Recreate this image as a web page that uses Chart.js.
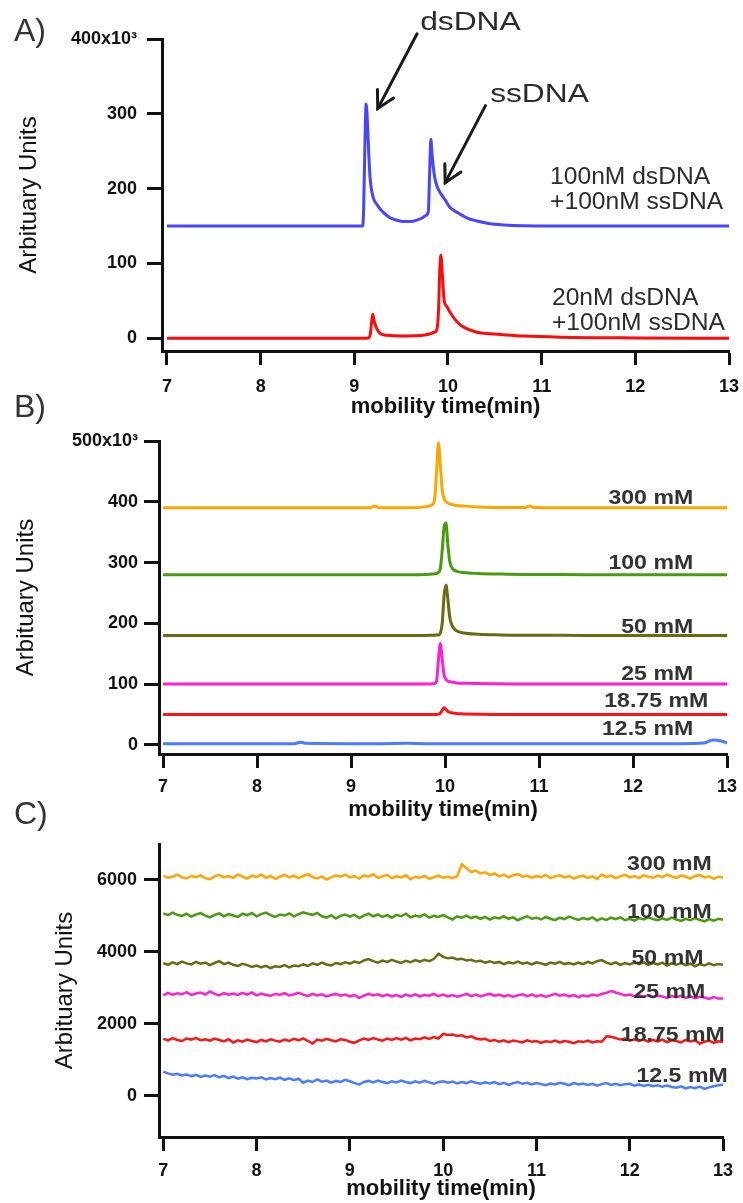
<!DOCTYPE html>
<html lang="en">
<head>
  <meta charset="UTF-8" />
  <title>Mobility shift electropherograms</title>
  <script src="https://cdn.jsdelivr.net/npm/chart.js"></script>
  <style>
    body {
      margin: 0;
      background: #fff;
      width: 743px;
      height: 1203px;
      overflow: hidden;
    }
    .panel {
      position: absolute;
      left: 0;
      width: 743px;
    }
  </style>
</head>
<body>
  <div class="panel" style="top:0;height:425px"><canvas id="chartA"></canvas></div>
  <div class="panel" style="top:385px;height:440px"><canvas id="chartB"></canvas></div>
  <div class="panel" style="top:790px;height:413px"><canvas id="chartC"></canvas></div>

  <script>
    // shared x ticks (minutes)
    const timeTicks = [7, 8, 9, 10, 11, 12, 13];

    // ---- panel A: dsDNA + ssDNA mixtures (y in units of 10^3) ----
    const aTicks = [0, 100, 200, 300, 400];
    const aBlueTime = [7, 8, 9, 9.09, 9.1, 9.115, 9.126, 9.14, 9.155, 9.17, 9.2, 9.24, 9.28, 9.33, 9.38, 9.45, 9.52, 9.6, 9.67, 9.73, 9.76, 9.79, 9.805, 9.817, 9.83, 9.85, 9.865, 9.89, 9.92, 9.97, 10.02, 10.1, 10.2, 10.3, 10.45, 10.6, 10.8, 11.1, 12, 13];
    const aBlue = [150, 150, 150, 150, 175, 270, 313, 290, 245, 212, 189, 179, 172, 166, 161, 158, 156, 156, 158, 161, 164, 169, 225, 266, 245, 222, 211, 201, 194, 185, 175, 168, 161, 157, 153, 151.5, 150.5, 150, 150, 150];
    const aRedTime = [7, 8, 9, 9.15, 9.17, 9.185, 9.197, 9.21, 9.24, 9.28, 9.35, 9.5, 9.65, 9.75, 9.81, 9.85, 9.88, 9.9, 9.912, 9.924, 9.94, 9.96, 9.99, 10.02, 10.07, 10.13, 10.2, 10.31, 10.45, 10.56, 10.8, 11.2, 12, 13];
    const aRed = [0, 0, 0, 0.5, 5, 22, 32, 24, 13, 6, 4, 3, 3.5, 4.5, 6, 8, 11, 40, 90, 111, 85, 50, 42, 35, 26, 18, 13, 8, 6, 5, 3, 1.5, 0.5, 0];

    // ---- panel B: salt series (y in units of 10^3) ----
    const bTicks = [0, 100, 200, 300, 400, 500];
    const bTime = [7, 7.5, 8, 8.4, 8.46, 8.52, 9, 9.2, 9.25, 9.3, 9.6, 9.8, 9.86, 9.89, 9.91, 9.93, 9.95, 9.97, 9.99, 10.01, 10.03, 10.05, 10.08, 10.12, 10.2, 10.35, 10.6, 10.85, 10.9, 10.95, 11.5, 12, 12.5, 12.75, 12.85, 12.95, 13];
    const b300 = [390, 390, 390, 390, 390, 390, 390, 390, 393, 390, 390, 392, 395, 405, 450, 497, 460, 420, 405, 400, 398, 396.5, 395, 394, 393, 391.5, 390.5, 390.5, 393, 390.5, 390, 390, 390, 390, 390, 390, 390];
    const b100 = [280, 280, 280, 280, 280, 280, 280, 280, 280, 280, 280, 280.5, 281, 281.5, 282, 284, 290, 320, 358, 365, 330, 302, 290, 286, 283.5, 282, 281, 280.5, 280.5, 280.5, 280, 280, 280, 280, 280, 280, 280];
    const b50 = [180, 180, 180, 180, 180, 180, 180, 180, 180, 180, 180, 180, 180.5, 180.5, 181, 181, 184, 200, 245, 263, 240, 210, 195, 188, 184, 182, 181, 180.5, 180.5, 180.5, 180, 180, 180, 180, 180, 180, 180];
    const b25 = [100, 100, 100, 100, 100, 100, 100, 100, 100, 100, 100, 100, 100.5, 101, 105, 140, 167, 140, 115, 108, 105, 104, 103, 102, 101.5, 101, 100.5, 100, 100, 100, 100, 100, 100, 100, 100, 100, 100];
    const b1875 = [50, 50, 50, 50, 50, 50, 50, 50, 50, 50, 50, 50, 50, 50, 50, 50.5, 52, 57, 61, 58, 55, 53.5, 52.5, 51.5, 51, 50.5, 50, 50, 50, 50, 50, 50, 50, 50, 50, 50, 50];
    const b125 = [2, 2, 2, 2, 4.5, 2.5, 2, 2, 2, 2, 2.5, 2, 2, 2, 2, 2, 2, 2, 2, 2, 2, 2, 2, 2, 2, 2, 2, 2, 2, 2, 2, 2, 2, 3, 8, 6, 3];

    // ---- panel C: controls (raw units), one reading every 0.05 min ----
    const cTicks = [0, 2000, 4000, 6000];
    const cTime = [
      7, 7.05, 7.1, 7.15, 7.2, 7.25, 7.3, 7.35, 7.4, 7.45,
      7.5, 7.55, 7.6, 7.65, 7.7, 7.75, 7.8, 7.85, 7.9, 7.95,
      8, 8.05, 8.1, 8.15, 8.2, 8.25, 8.3, 8.35, 8.4, 8.45,
      8.5, 8.55, 8.6, 8.65, 8.7, 8.75, 8.8, 8.85, 8.9, 8.95,
      9, 9.05, 9.1, 9.15, 9.2, 9.25, 9.3, 9.35, 9.4, 9.45,
      9.5, 9.55, 9.6, 9.65, 9.7, 9.75, 9.8, 9.85, 9.9, 9.95,
      10, 10.05, 10.1, 10.15, 10.2, 10.25, 10.3, 10.35, 10.4, 10.45,
      10.5, 10.55, 10.6, 10.65, 10.7, 10.75, 10.8, 10.85, 10.9, 10.95,
      11, 11.05, 11.1, 11.15, 11.2, 11.25, 11.3, 11.35, 11.4, 11.45,
      11.5, 11.55, 11.6, 11.65, 11.7, 11.75, 11.8, 11.85, 11.9, 11.95,
      12, 12.05, 12.1, 12.15, 12.2, 12.25, 12.3, 12.35, 12.4, 12.45,
      12.5, 12.55, 12.6, 12.65, 12.7, 12.75, 12.8, 12.85, 12.9, 12.95,
      13
    ];
    const c300 = [
      6120, 6060, 6090, 6150, 6070, 6040, 6110, 6080, 6130, 6050,
      6020, 6100, 6140, 6070, 6110, 6060, 6150, 6090, 6040, 6120,
      6080, 6150, 6060, 6110, 6030, 6090, 6140, 6070, 6120, 6050,
      6110, 6160, 6080, 6040, 6100, 6010, 6070, 6130, 6090, 6150,
      6070, 6110, 6040, 6130, 6090, 6160, 6060, 6100, 6140, 6050,
      6100, 6070, 6130, 6020, 6090, 6060, 6110, 6030, 6080, 6120,
      6060, 6090, 6050, 6100, 6440, 6330, 6220, 6260, 6180, 6210,
      6140, 6180, 6100, 6150, 6070, 6130, 6160, 6090, 6120, 6060,
      6110, 6080, 6140, 6050, 6100, 6130, 6070, 6110, 6040, 6090,
      6120, 6060, 6100, 6030, 6150, 6080, 6120, 6050, 6100, 6140,
      6070, 6110, 6050, 6130, 6090, 6060, 6120, 6080, 6150, 6100,
      6060, 6130, 6090, 6040, 6110, 6140, 6070, 6100, 6030, 6090,
      6070
    ];
    const c100 = [
      5070, 5020, 5090, 5030, 5000, 5060, 4980, 5040, 5080, 5010,
      4960, 5030, 5070, 4990, 5050, 5010, 4970, 5060, 5020, 5080,
      4990, 5050, 5090, 5020, 4970, 5040, 5010, 5070, 4990, 5050,
      5100, 5060, 5030, 5080, 4990, 4950, 5020, 4930, 5000, 5040,
      4980, 5030, 4940, 5010, 5060, 4990, 5040, 4970, 5020, 4950,
      5030, 4990, 5060, 4960, 5010, 4980, 5040, 4950, 5000, 4970,
      5020, 4960, 4900, 4990, 4950, 5010, 4940, 4980, 4920, 4970,
      4900, 4960, 4930, 4990, 4920, 4960, 4880, 4940, 4990, 4920,
      4950, 4900, 4970, 4920, 4880, 4950, 4910, 4980, 4930, 4890,
      4940, 4900, 4960, 4870, 4930, 4890, 4950, 4910, 4960, 4880,
      4920, 4870, 4940, 4900, 4960, 4910, 4880, 4930, 4890, 4950,
      4900, 4860, 4920, 4880, 4940, 4890, 4850, 4910, 4870, 4920,
      4890
    ];
    const c50 = [
      3690, 3640, 3710, 3660, 3730, 3680, 3650, 3720, 3670, 3700,
      3630, 3690, 3740, 3660, 3700, 3640, 3610, 3670, 3630, 3580,
      3620, 3570, 3610, 3550, 3600, 3580, 3630, 3570, 3620, 3600,
      3650, 3610, 3680, 3640, 3700, 3650, 3620, 3690, 3660, 3710,
      3670, 3730, 3690, 3760, 3800, 3740, 3700, 3760, 3720, 3780,
      3730, 3690, 3750, 3710, 3770, 3730, 3780, 3740, 3800, 3950,
      3860, 3820, 3840, 3790, 3810, 3760, 3780, 3730, 3750, 3700,
      3740, 3690, 3720, 3660, 3710, 3680, 3730, 3670, 3700, 3650,
      3710, 3680, 3640, 3700, 3670, 3720, 3660, 3690, 3650, 3700,
      3660, 3720, 3680, 3740, 3770, 3700, 3660, 3710, 3640, 3690,
      3650, 3700, 3660, 3710, 3640, 3690, 3650, 3700, 3620, 3680,
      3640, 3690, 3630, 3670, 3600, 3660, 3620, 3680, 3630, 3660,
      3640
    ];
    const c25 = [
      2790, 2860, 2810, 2850, 2820, 2880, 2800, 2840, 2870, 2810,
      2900, 2830, 2790, 2850, 2810, 2840, 2800, 2860, 2810, 2870,
      2790, 2840, 2800, 2780, 2830, 2810, 2850, 2790, 2820, 2860,
      2810, 2770, 2830, 2790, 2820, 2760, 2800, 2830, 2780, 2810,
      2760, 2800, 2720, 2780, 2830, 2790, 2820, 2770, 2810, 2760,
      2800, 2750, 2810, 2770, 2820, 2760, 2800, 2780, 2830, 2770,
      2810, 2760, 2800, 2750, 2790, 2830, 2770, 2810, 2760, 2800,
      2830, 2780, 2810, 2760, 2800, 2750, 2790, 2820, 2770, 2810,
      2760, 2800, 2750, 2790, 2830, 2780, 2810, 2760, 2800, 2740,
      2790, 2760, 2810, 2780, 2830, 2860, 2910, 2870, 2830, 2790,
      2810, 2760, 2800, 2750, 2790, 2740, 2780, 2760, 2720, 2770,
      2740, 2780, 2720, 2760, 2710, 2750, 2730, 2690, 2740, 2700,
      2700
    ];
    const c1875 = [
      1580, 1540, 1600, 1550, 1520, 1590, 1560, 1610, 1540, 1570,
      1530, 1590, 1550, 1510, 1570, 1480, 1540, 1500, 1560, 1520,
      1490, 1550, 1510, 1570, 1530, 1500, 1560, 1520, 1580, 1540,
      1590, 1520, 1450, 1560, 1530, 1580, 1540, 1510, 1570, 1550,
      1500, 1470, 1540, 1590, 1550, 1600, 1560, 1530, 1590, 1550,
      1600, 1560, 1610, 1540, 1590, 1570, 1620, 1580, 1630, 1590,
      1720, 1690, 1700, 1660, 1680, 1620, 1650, 1590, 1560, 1580,
      1520, 1550, 1500, 1540, 1490, 1530, 1510, 1480, 1540, 1500,
      1520, 1470, 1510, 1490, 1530, 1480, 1520, 1500, 1460, 1510,
      1490, 1530, 1480, 1510, 1500, 1650, 1640, 1600, 1560, 1590,
      1530, 1570, 1520, 1560, 1500, 1550, 1510, 1560, 1490, 1540,
      1520, 1480, 1550, 1510, 1540, 1450, 1500, 1530, 1470, 1510,
      1490
    ];
    const c125 = [
      670, 620, 580, 610, 560, 590, 540, 580, 520, 560,
      530, 570, 510, 550, 490, 530, 470, 510, 460, 500,
      480, 510, 450, 490, 460, 500, 440, 480, 430, 470,
      360, 420, 380, 450, 390, 420, 360, 410, 380, 440,
      400, 350, 310, 380, 410, 370, 420, 380, 350, 400,
      370, 420, 380, 350, 400, 360, 410, 370, 330, 380,
      400, 360, 390, 340, 380, 350, 400, 360, 330, 370,
      340, 380, 320, 360, 300, 350, 380, 330, 360, 310,
      350, 320, 290, 340, 310, 360, 330, 290, 350, 310,
      340, 300, 330, 280, 320, 350, 300, 330, 290, 320,
      330, 280, 310, 270, 300, 260, 290, 250, 280, 240,
      220, 260, 200, 240, 210, 250, 190, 230, 260, 290,
      300
    ];

    const FONT = "'Liberation Sans', Arial, sans-serif";
    const ink = '#111';
    const textInk = '#2b2b2b';

    function pts(xs, ys) {
      return xs.map((x, i) => ({ x: x, y: ys[i] }));
    }

    // text + arrows drawn over the plot
    const notesPlugin = {
      id: 'notes',
      afterDraw(chart, args, opts) {
        const ctx = chart.ctx;
        const sx = chart.scales.x, sy = chart.scales.y;
        ctx.save();
        (opts.arrows || []).forEach(a => {
          const x1 = sx.getPixelForValue(a.from[0]), y1 = sy.getPixelForValue(a.from[1]);
          const x2 = sx.getPixelForValue(a.to[0]), y2 = sy.getPixelForValue(a.to[1]);
          const ang = Math.atan2(y2 - y1, x2 - x1);
          ctx.strokeStyle = '#1a1a1a';
          ctx.lineWidth = 3;
          ctx.lineCap = 'round';
          ctx.beginPath();
          ctx.moveTo(x1, y1);
          ctx.lineTo(x2, y2);
          ctx.stroke();
          ctx.beginPath();
          ctx.moveTo(x2 - 19 * Math.cos(ang - 0.5), y2 - 19 * Math.sin(ang - 0.5));
          ctx.lineTo(x2, y2);
          ctx.lineTo(x2 - 19 * Math.cos(ang + 0.5), y2 - 19 * Math.sin(ang + 0.5));
          ctx.stroke();
        });
        (opts.texts || []).forEach(t => {
          const x = t.px ? t.px[0] : sx.getPixelForValue(t.at[0]);
          const y = t.px ? t.px[1] : sy.getPixelForValue(t.at[1]);
          ctx.save();
          ctx.translate(x, y);
          ctx.scale(t.sx || 1, 1);
          ctx.font = t.font;
          ctx.fillStyle = t.color || textInk;
          ctx.textAlign = t.align || 'left';
          ctx.textBaseline = 'middle';
          ctx.fillText(t.text, 0, 0);
          ctx.restore();
        });
        ctx.restore();
      }
    };
    Chart.register(notesPlugin);

    function panelOptions(cfg) {
      const grid = {
        display: true,
        drawOnChartArea: false,
        drawTicks: true,
        tickLength: 14,
        tickWidth: 3,
        tickColor: ink
      };
      return {
        responsive: true,
        maintainAspectRatio: false,
        animation: false,
        layout: { padding: { top: cfg.top, right: cfg.right, left: 0, bottom: 0 } },
        plugins: {
          legend: { display: false },
          tooltip: { enabled: false },
          notes: cfg.notes
        },
        elements: { point: { radius: 0 } },
        scales: {
          x: {
            type: 'linear',
            min: cfg.xMin,
            max: 13,
            afterBuildTicks: s => { s.ticks = timeTicks.map(v => ({ value: v })); },
            afterFit: s => { s.height = cfg.xHeight; s.paddingLeft = 0; s.paddingRight = 0; },
            grid: grid,
            border: { display: true, color: ink, width: 3 },
            ticks: {
              font: { family: FONT, size: 18, weight: 'bold' },
              color: ink,
              padding: cfg.xPad,
              maxRotation: 0,
              autoSkip: false
            },
            title: {
              display: true,
              text: 'mobility time(min)',
              font: { family: FONT, size: 22, weight: 'bold' },
              color: ink,
              padding: { top: 0, bottom: cfg.xTitlePad }
            }
          },
          y: {
            type: 'linear',
            min: cfg.yMin,
            max: cfg.yMax,
            afterBuildTicks: s => { s.ticks = cfg.yTicks.map(v => ({ value: v })); },
            afterFit: s => { s.width = cfg.yWidth; s.paddingTop = 0; s.paddingBottom = 0; },
            grid: Object.assign({}, grid, { tickLength: cfg.yTickLen }),
            border: { display: true, color: ink, width: 3 },
            ticks: {
              font: { family: FONT, size: 18, weight: 'bold' },
              color: ink,
              padding: cfg.yPad,
              callback: v => (cfg.topLabel && v === cfg.yTicks[cfg.yTicks.length - 1]) ? v + 'x10\u00B3' : v
            },
            title: {
              display: true,
              text: 'Arbituary Units',
              font: { family: FONT, size: 24, weight: 'normal' },
              color: ink,
              padding: { top: cfg.yTitlePad, bottom: 0 }
            }
          }
        }
      };
    }

    function line(data, color, width, smooth) {
      return {
        data: data,
        borderColor: color,
        borderWidth: width,
        fill: false,
        cubicInterpolationMode: smooth ? 'monotone' : 'default',
        tension: 0
      };
    }

    const letterFont = 'normal 32px ' + FONT;
    const annFont = 'normal 26px ' + FONT;
    const mixFont = 'normal 23px ' + FONT;
    const saltFont = 'bold 21px ' + FONT;
    const saltInk = '#333';

    // Panel A
    new Chart(document.getElementById('chartA'), {
      type: 'line',
      data: {
        datasets: [
          line(pts(aBlueTime, aBlue), '#4646ff', 3, true),
          line(pts(aRedTime, aRed), '#ff0a0a', 3, true)
        ]
      },
      options: panelOptions({
        top: 39, right: 14, xMin: 6.947, xHeight: 74, xPad: 11, xTitlePad: 5,
        yMin: -17, yMax: 400, yTicks: aTicks, yWidth: 162, yTickLen: 15, yPad: 10, yTitlePad: 15, topLabel: true,
        notes: {
          arrows: [
            { from: [9.67, 407], to: [9.25, 307] },
            { from: [10.4, 311], to: [9.97, 208] }
          ],
          texts: [
            { px: [14, 32], text: 'A)', font: letterFont, color: '#333' },
            { at: [9.703, 421], text: 'dsDNA', font: annFont, sx: 1.22 },
            { at: [10.45, 325], text: 'ssDNA', font: annFont, sx: 1.22 },
            { at: [11.09, 215], text: '100nM dsDNA', font: mixFont, sx: 1.07 },
            { at: [11.09, 181], text: '+100nM ssDNA', font: mixFont, sx: 1.07 },
            { at: [11.11, 53], text: '20nM dsDNA', font: mixFont, sx: 1.07 },
            { at: [11.11, 20], text: '+100nM ssDNA', font: mixFont, sx: 1.07 }
          ]
        }
      })
    });

    // Panel B
    new Chart(document.getElementById('chartB'), {
      type: 'line',
      data: {
        datasets: [
          line(pts(bTime, b300), '#ffa500', 3, true),
          line(pts(bTime, b100), '#4a9a0e', 3, true),
          line(pts(bTime, b50), '#6b6a10', 3, true),
          line(pts(bTime, b25), '#ff1ed2', 3, true),
          line(pts(bTime, b1875), '#ff1414', 3, true),
          line(pts(bTime, b125), '#4b7bff', 3, true)
        ]
      },
      options: panelOptions({
        top: 56, right: 16, xMin: 6.957, xHeight: 71, xPad: 8, xTitlePad: 2,
        yMin: -15, yMax: 500, yTicks: bTicks, yWidth: 159, yTickLen: 15, yPad: 6, yTitlePad: 12, topLabel: true,
        notes: {
          texts: [
            { px: [14, 23], text: 'B)', font: letterFont, color: '#333' },
            { at: [12.64, 406], text: '300 mM', font: saltFont, color: saltInk, align: 'right', sx: 1.1 },
            { at: [12.64, 299], text: '100 mM', font: saltFont, color: saltInk, align: 'right', sx: 1.1 },
            { at: [12.64, 194], text: '50 mM', font: saltFont, color: saltInk, align: 'right', sx: 1.1 },
            { at: [12.64, 117], text: '25 mM', font: saltFont, color: saltInk, align: 'right', sx: 1.1 },
            { at: [12.80, 72], text: '18.75 mM', font: saltFont, color: saltInk, align: 'right', sx: 1.1 },
            { at: [12.64, 25], text: '12.5 mM', font: saltFont, color: saltInk, align: 'right', sx: 1.1 }
          ]
        }
      })
    });

    // Panel C
    new Chart(document.getElementById('chartC'), {
      type: 'line',
      data: {
        datasets: [
          line(pts(cTime, c300), '#ffa500', 2.5, false),
          line(pts(cTime, c100), '#4a9a0e', 2.5, false),
          line(pts(cTime, c50), '#6b6a10', 2.5, false),
          line(pts(cTime, c25), '#ff1ed2', 2.5, false),
          line(pts(cTime, c1875), '#ff1414', 2.5, false),
          line(pts(cTime, c125), '#4b7bff', 2.5, false)
        ]
      },
      options: panelOptions({
        top: 54, right: 20, xMin: 6.954, xHeight: 66, xPad: 9, xTitlePad: 1,
        yMin: -1150, yMax: 7000, yTicks: cTicks, yWidth: 159, yTickLen: 15, yPad: 7, yTitlePad: 51, topLabel: false,
        notes: {
          texts: [
            { px: [14, 25], text: 'C)', font: letterFont, color: '#333' },
            { at: [12.88, 6444], text: '300 mM', font: saltFont, color: saltInk, align: 'right', sx: 1.1 },
            { at: [12.88, 5111], text: '100 mM', font: saltFont, color: saltInk, align: 'right', sx: 1.1 },
            { at: [12.79, 3833], text: '50 mM', font: saltFont, color: saltInk, align: 'right', sx: 1.1 },
            { at: [12.81, 2889], text: '25 mM', font: saltFont, color: saltInk, align: 'right', sx: 1.1 },
            { at: [13.02, 1694], text: '18.75 mM', font: saltFont, color: saltInk, align: 'right', sx: 1.1 },
            { at: [13.05, 528], text: '12.5 mM', font: saltFont, color: saltInk, align: 'right', sx: 1.1 }
          ]
        }
      })
    });
  </script>
</body>
</html>
